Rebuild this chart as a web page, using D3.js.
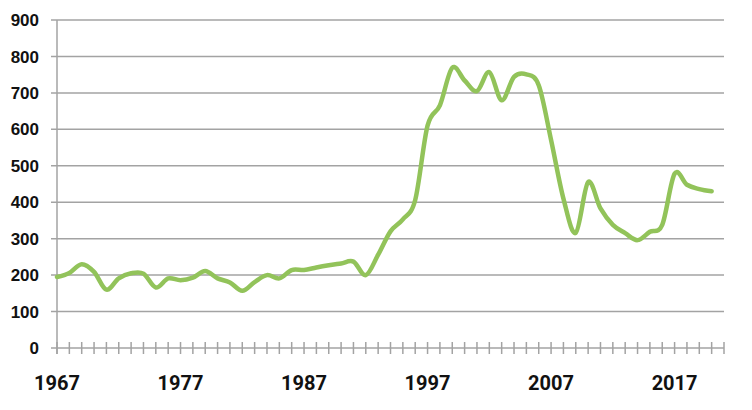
<!DOCTYPE html>
<html>
<head>
<meta charset="utf-8">
<script src="https://cdn.jsdelivr.net/npm/d3@7"></script>
<style>
  html, body { margin: 0; padding: 0; background: #fff; }
  svg { display: block; }
</style>
</head>
<body>
<svg id="chart" width="752" height="410"></svg>
<script>
const years = d3.range(1967, 2021);
const values = [
  195, 206, 230, 209, 160, 191, 205, 204, 166, 191,
  186, 193, 211, 191, 180, 157, 181, 200, 191, 214,
  214, 221, 227, 232, 237, 200, 256, 320, 353, 406,
  610, 666, 769, 734, 705, 757, 680, 744, 751, 721,
  571, 410, 316, 455, 383, 338, 315, 296, 319, 338,
  478, 448, 436, 430
];
const yTicks = [0, 100, 200, 300, 400, 500, 600, 700, 800, 900];
const xLabels = [1967, 1977, 1987, 1997, 2007, 2017];

const svg = d3.select("#chart");
const x = d3.scaleLinear().domain([1967, 2021]).range([57, 724]);
const y = d3.scaleLinear().domain([0, 900]).range([348, 20]);

// gridlines
svg.append("g").selectAll("line").data(yTicks).join("line")
  .attr("x1", 51).attr("x2", 724)
  .attr("y1", d => y(d)).attr("y2", d => y(d))
  .attr("stroke", "#a3a3a3").attr("stroke-width", 1.5);

// y axis line
svg.append("line")
  .attr("x1", x(1967)).attr("x2", x(1967))
  .attr("y1", y(900)).attr("y2", y(0) + 6)
  .attr("stroke", "#a3a3a3").attr("stroke-width", 1.5);

// x axis cross ticks
svg.append("g").selectAll("line").data(d3.range(1967, 2022)).join("line")
  .attr("x1", d => x(d)).attr("x2", d => x(d))
  .attr("y1", y(0) - 6).attr("y2", y(0) + 6)
  .attr("stroke", "#a3a3a3").attr("stroke-width", 1.5);

// y labels
svg.append("g").selectAll("text").data(yTicks).join("text")
  .attr("x", 39).attr("y", d => y(d))
  .attr("dy", "0.36em")
  .attr("text-anchor", "end")
  .attr("font-family", "'Liberation Sans', Arial, sans-serif")
  .attr("font-weight", "bold")
  .attr("font-size", 17)
  .attr("fill", "#111")
  .text(d => d);

// x labels
svg.append("g").selectAll("text").data(xLabels).join("text")
  .attr("x", d => x(d)).attr("y", 383)
  .attr("dy", "0.36em")
  .attr("text-anchor", "middle")
  .attr("font-family", "Roboto, sans-serif")
  .attr("font-weight", "bold")
  .attr("font-size", 20)
  .attr("fill", "#111")
  .text(d => d);

// line
const line = d3.line()
  .x((d, i) => x(years[i]))
  .y(d => y(d))
  .curve(d3.curveCardinal.tension(0));

svg.append("path")
  .datum(values)
  .attr("d", line)
  .attr("fill", "none")
  .attr("stroke", "#92c35a")
  .attr("stroke-width", 4.5)
  .attr("stroke-linecap", "round")
  .attr("stroke-linejoin", "round");
</script>
</body>
</html>
